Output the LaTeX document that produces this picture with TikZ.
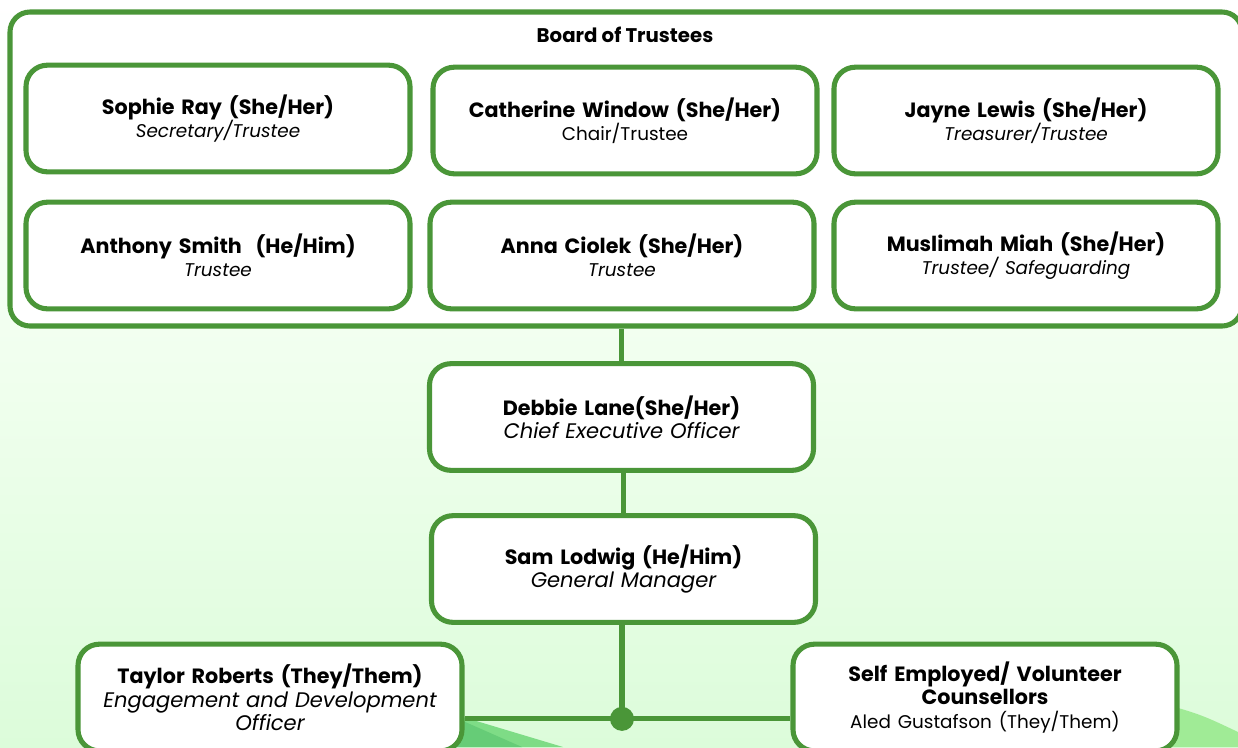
\documentclass[tikz,border=0pt]{standalone}
\usepackage{fontspec}
\setmainfont{Poppins}
\usetikzlibrary{calc}
\definecolor{gline}{RGB}{74,150,56}
\definecolor{bgtop}{RGB}{255,255,255}
\definecolor{bgbot}{RGB}{220,252,218}
\definecolor{swA}{RGB}{126,220,134}
\definecolor{swB}{RGB}{102,204,119}
\definecolor{swC}{RGB}{160,235,150}
\tikzset{
  person/.style={draw=gline, line width=3.8pt, rounded corners=16pt, fill=white,
    minimum width=288pt, minimum height=80pt, align=center, inner sep=2pt,
    text width=275pt, font=\fontsize{15.5pt}{17.5pt}\selectfont},
  link/.style={draw=gline, line width=3.8pt},
}
\newcommand{\nm}[1]{\textbf{#1}}
\newcommand{\rlS}[1]{{\fontsize{13.8pt}{16pt}\selectfont\itshape #1}}
\newcommand{\rlL}[1]{{\fontsize{15.8pt}{17.5pt}\selectfont\itshape #1}}
\begin{document}
\begin{tikzpicture}[x=0.75pt,y=-0.75pt]
\useasboundingbox (0,0) rectangle (1238,747);
\shade[top color=bgtop, bottom color=bgbot, middle color={rgb,255:red,240;green,255;blue,238}] (0,0) rectangle (1238,747);
% swooshes
\fill[swA] (380,690) -- (463,717) -- (563,747) -- (380,747) -- cycle;
\fill[swB] (380,700) -- (463,721) -- (522,747) -- (380,747) -- cycle;
\fill[swC] (1150,700) .. controls (1200,714) .. (1238,732) -- (1238,747) -- (1150,747) -- cycle;
% board
\node[draw=gline, line width=3.8pt, rounded corners=15pt, fill=white,
  minimum width=924pt, minimum height=235.5pt, inner sep=0pt] (board) at (626,169) {};
\node[font=\fontsize{14.8pt}{16pt}\selectfont\bfseries] (boardt) at (625,35) {Board of Trustees};
\node[person] (sophie) at (218,118.5) {\nm{Sophie Ray (She/Her)}\\\rlS{Secretary/Trustee}};
\node[person] (catherine) at (625,120.5) {\nm{Catherine Window (She/Her)}\\{\fontsize{13.8pt}{16pt}\selectfont Chair/Trustee}};
\node[person] (jayne) at (1026,120.5) {\nm{Jayne Lewis (She/Her)}\\\rlS{Treasurer/Trustee}};
\node[person] (anthony) at (218,255.5) {\nm{Anthony Smith\ \ (He/Him)}\\\rlS{Trustee}};
\node[person] (anna) at (622,255.5) {\nm{Anna Ciolek (She/Her)}\\\rlS{Trustee}};
\node[person] (muslimah) at (1026,255.5) {\nm{Muslimah Miah (She/Her)}\\\rlS{Trustee/ Safeguarding}};
\node[person] (debbie) at (621.5,417) {\nm{Debbie Lane(She/Her)}\\\rlL{Chief Executive Officer}};
\node[person] (sam) at (623.5,569) {\nm{Sam Lodwig (He/Him)}\\\rlL{General Manager}};
\node[person] (taylor) at (270,697.5) {\nm{Taylor Roberts (They/Them)}\\\rlL{Engagement and Development\\Officer}};
\node[person] (self) at (985,697.5) {\nm{Self Employed/ Volunteer\\Counsellors}\\{\fontsize{13.8pt}{16pt}\selectfont Aled Gustafson (They/Them)}};
% connectors
\draw[link] (debbie.north) -- (debbie.north |- board.south);
\draw[link] (sam.north) -- (sam.north |- debbie.south);
\coordinate (junc) at ($(sam.south)+(-1.5,94)$);
\draw[link] (sam.south -| junc) -- (junc);
\draw[link] (taylor.east |- junc) -- (self.west |- junc);
\fill[gline] (junc) circle (9pt);
\end{tikzpicture}
\end{document}
